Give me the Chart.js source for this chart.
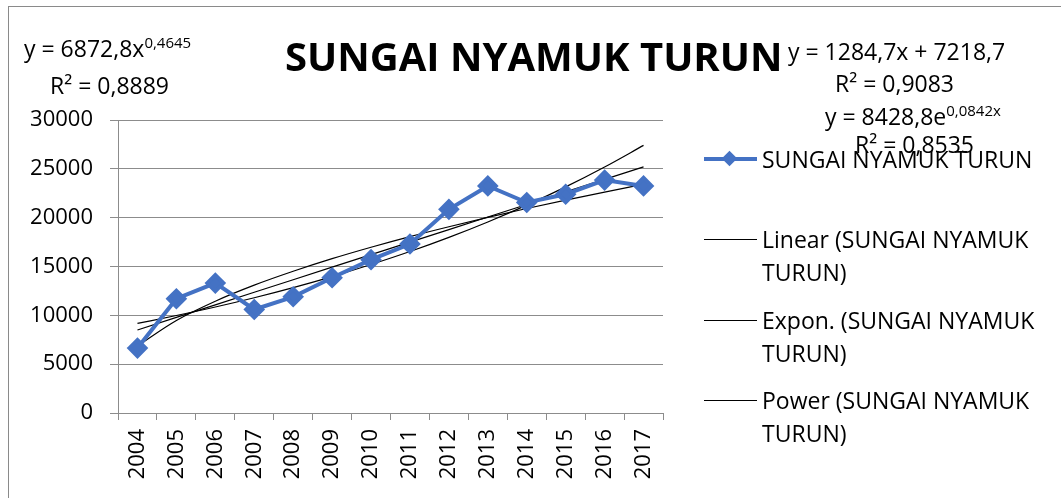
<!DOCTYPE html>
<html>
<head>
<meta charset="utf-8">
<script src="https://cdn.jsdelivr.net/npm/chart.js@4.4.1/dist/chart.umd.min.js"></script>
<style>
  body { margin: 0; background: #fff; font-family: "Open Sans", sans-serif; }
  #wrap { position: relative; width: 1061px; height: 498px; overflow: hidden; }
  #frame { position: absolute; left: 8px; top: 6px; width: 1100px; height: 600px; border: 1px solid #8a8a8a; }
  #myChart { position: absolute; left: 0; top: 0; }
  .txt { position: absolute; white-space: nowrap; color: #000; font-size: 23px; line-height: 1; }
  .txt sup { font-size: 15px; vertical-align: 9px; }
  #title { position: absolute; left: 285px; top: 36px; font-weight: 700; font-size: 40px; white-space: nowrap; line-height: 1; }
  .leg { position: absolute; left: 762px; font-size: 23px; line-height: 33px; white-space: nowrap; }
  .sw { position: absolute; left: 704px; width: 53px; height: 0; }
</style>
</head>
<body>
<div id="wrap">
  <div id="frame"></div>
  <canvas id="myChart" width="1061" height="498"></canvas>
  <div id="title">SUNGAI NYAMUK TURUN</div>
  <div class="txt" style="left:24px; top:35px;">y = 6872,8x<sup>0,4645</sup></div>
  <div class="txt" style="left:50px; top:74px;">R² = 0,8889</div>
  <div class="txt" style="left:788px; top:40px;">y = 1284,7x + 7218,7</div>
  <div class="txt" style="left:835px; top:72px;">R² = 0,9083</div>
  <div class="txt" style="left:825px; top:103px;">y = 8428,8e<sup>0,0842x</sup></div>
  <div class="txt" style="left:855px; top:133px;">R² = 0,8535</div>
  <div id="legend"></div>
</div>
<script>
// Sungai Nyamuk Turun, yearly values with three trendlines

const years = ['2004','2005','2006','2007','2008','2009','2010','2011','2012','2013','2014','2015','2016','2017'];
const values = [6650, 11700, 13300, 10600, 11900, 13850, 15700, 17300, 20850, 23250, 21550, 22400, 23850, 23250];

// trendline values read at each year
const linearTrend = [8500, 9790, 11070, 12360, 13640, 14930, 16210, 17500, 18780, 20070, 21350, 22640, 23920, 25200];
const exponTrend = [9170, 9980, 10850, 11800, 12840, 13970, 15200, 16530, 17980, 19560, 21280, 23150, 25190, 27400];
const powerTrend = [6870, 9480, 11450, 13090, 14510, 15800, 16970, 18060, 19070, 20030, 20940, 21800, 22620, 23420];

const yTicks = [0, 5000, 10000, 15000, 20000, 25000, 30000];

const seriesName = 'SUNGAI NYAMUK TURUN';
const blue = '#4472C4';
const gridGray = '#8c8c8c';

const ctx = document.getElementById('myChart');
const myChart = new Chart(ctx, {
    type: 'line',
    data: {
        labels: years,
        datasets: [
            {
                label: seriesName,
                data: values,
                borderColor: blue,
                backgroundColor: blue,
                borderWidth: 4,
                pointStyle: 'rectRot',
                pointRadius: 8,
                pointHoverRadius: 8,
                tension: 0,
                order: 0
            },
            {
                label: 'Linear (' + seriesName + ')',
                data: linearTrend,
                borderColor: '#000',
                borderWidth: 1.2,
                pointRadius: 0,
                order: 1
            },
            {
                label: 'Expon. (' + seriesName + ')',
                data: exponTrend,
                borderColor: '#000',
                borderWidth: 1.2,
                pointRadius: 0,
                cubicInterpolationMode: 'monotone',
                order: 1
            },
            {
                label: 'Power (' + seriesName + ')',
                data: powerTrend,
                borderColor: '#000',
                borderWidth: 1.2,
                pointRadius: 0,
                cubicInterpolationMode: 'monotone',
                order: 1
            }
        ]
    },
    options: {
        responsive: false,
        animation: false,
        layout: {
            padding: { left: 0, top: 120, right: 398, bottom: 0 }
        },
        scales: {
            x: {
                offset: true,
                afterFit: function(scale) { scale.height = 85; },
                grid: {
                    offset: true,
                    drawOnChartArea: false,
                    color: gridGray,
                    tickLength: 7
                },
                border: { color: gridGray },
                ticks: {
                    minRotation: 90,
                    maxRotation: 90,
                    padding: 9,
                    color: '#000',
                    font: { family: 'Open Sans', size: 22 }
                }
            },
            y: {
                min: 0,
                max: 30000,
                afterFit: function(scale) { scale.width = 118; },
                afterBuildTicks: function(scale) {
                    scale.ticks = yTicks.map(v => ({ value: v }));
                },
                grid: {
                    color: gridGray,
                    tickLength: 8
                },
                border: { color: gridGray },
                ticks: {
                    padding: 17,
                    color: '#000',
                    font: { family: 'Open Sans', size: 22 },
                    callback: function(val) { return String(val); }
                }
            }
        },
        plugins: {
            legend: { display: false },
            tooltip: { enabled: false }
        }
    }
});

// legend on the right, built from the dataset labels
const legendBox = document.getElementById('legend');
const legendRows = [
    { top: 143, swY: 159, lines: [myChart.data.datasets[0].label] },
    { top: 223, swY: 239, lines: ['Linear (SUNGAI NYAMUK', 'TURUN)'] },
    { top: 304, swY: 320, lines: ['Expon. (SUNGAI NYAMUK', 'TURUN)'] },
    { top: 384, swY: 400, lines: ['Power (SUNGAI NYAMUK', 'TURUN)'] }
];
legendRows.forEach((row, i) => {
    const ds = myChart.data.datasets[i];
    const sw = document.createElement('div');
    sw.className = 'sw';
    sw.style.top = (row.swY - (i === 0 ? 2 : 0.5)) + 'px';
    sw.style.borderTop = (i === 0 ? 4 : 1.2) + 'px solid ' + ds.borderColor;
    legendBox.appendChild(sw);
    if (i === 0) {
        const d = document.createElement('div');
        d.style.cssText = 'position:absolute;left:724px;top:' + (row.swY - 6) + 'px;width:11px;height:11px;background:' + blue + ';transform:rotate(45deg);';
        legendBox.appendChild(d);
    }
    const t = document.createElement('div');
    t.className = 'leg';
    t.style.top = row.top + 'px';
    t.innerHTML = row.lines.join('<br>');
    legendBox.appendChild(t);
});
</script>
</body>
</html>
